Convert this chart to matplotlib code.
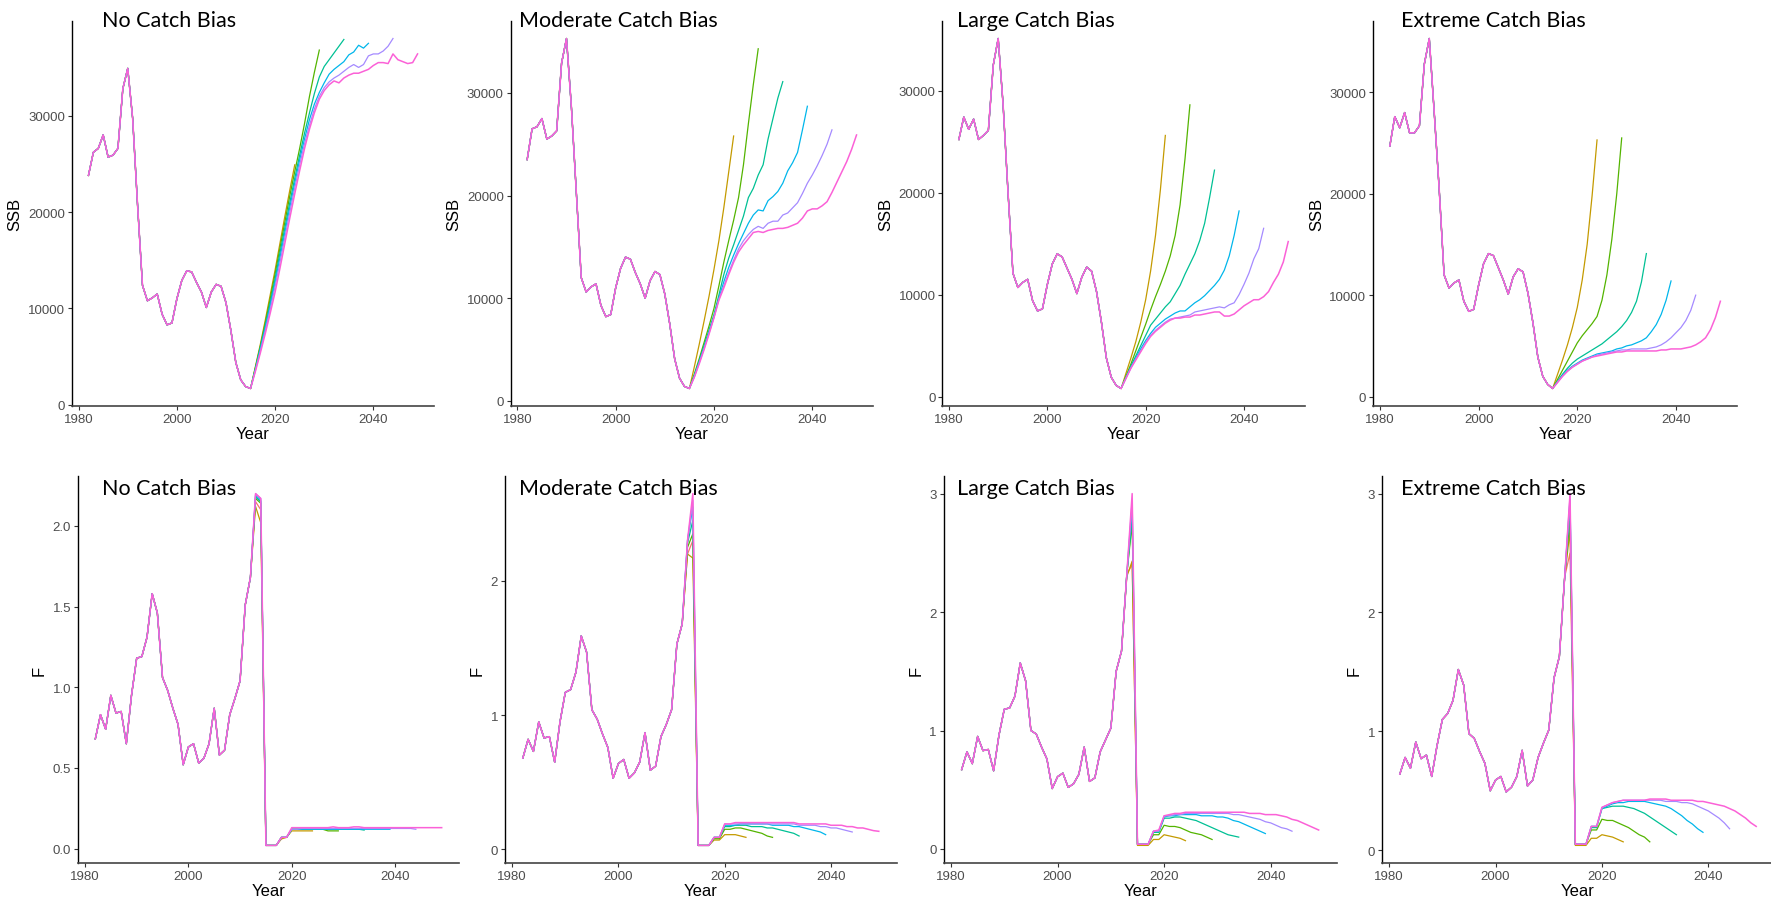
import numpy as np
import matplotlib
matplotlib.use("Agg")
import matplotlib.pyplot as plt

W, H = 1771, 904

HIST_START = 1982     # first assessment year
PROJ_START = 2016     # first projected SSB year
F_TAIL_START = 2013   # F tails start here, the series split at the peak

# ggplot hue palette, 7 groups (terminal run + 6 projection lengths)
series_colors = ["#F8766D", "#C49A00", "#53B400", "#00C094", "#00B6EB", "#A58AFF", "#FB61D7"]
panel_titles = ["No Catch Bias", "Moderate Catch Bias", "Large Catch Bias", "Extreme Catch Bias"]
year_ticks = [1980, 2000, 2020, 2040]
ssb_ticks = [0, 10000, 20000, 30000]
f_ticks = [[0.0, 0.5, 1.0, 1.5, 2.0], [0, 1, 2], [0, 1, 2, 3], [0, 1, 2, 3]]
f_tick_labels = [["0.0", "0.5", "1.0", "1.5", "2.0"], ["0", "1", "2"], ["0", "1", "2", "3"], ["0", "1", "2", "3"]]

# ---- SSB, 1982-2015 ----
ssb_hist_none = [23800, 26200, 26600, 28000, 25700, 25900, 26600, 32800, 34900, 29700, 20700, 12400,
                 10800, 11100, 11500, 9400, 8300, 8500, 11000, 12900, 13900, 13800, 12700, 11700,
                 10100, 11700, 12500, 12300, 10600, 7700, 4400, 2600, 1900, 1700]
ssb_hist_mod = [23500, 26500, 26700, 27500, 25500, 25800, 26300, 32900, 35300, 28600, 20300, 12000,
                10600, 11100, 11400, 9300, 8200, 8400, 11000, 12900, 14000, 13800, 12500, 11400,
                10000, 11700, 12600, 12300, 10400, 7500, 4100, 2200, 1400, 1200]
ssb_hist_large = [25200, 27400, 26200, 27200, 25200, 25600, 26100, 32500, 35100, 28600, 20000, 12100,
                  10700, 11200, 11500, 9400, 8400, 8600, 11000, 13000, 14000, 13700, 12600, 11500,
                  10100, 11700, 12700, 12300, 10300, 7300, 3800, 1900, 1100, 800]
ssb_hist_ext = [24700, 27600, 26500, 28000, 26000, 26000, 26700, 32800, 35300, 28000, 20500, 12000,
                10700, 11200, 11500, 9400, 8400, 8600, 11000, 13100, 14100, 13900, 12700, 11500,
                10100, 11800, 12600, 12300, 10200, 7300, 3900, 2000, 1200, 800]

# ---- SSB projections from 2016, one list per series (red has none) ----
ssb_proj_none = [
    [],
    [4000, 6300, 8800, 11400, 14000, 16800, 19600, 22300, 24900],
    [3900, 6100, 8500, 11000, 13600, 16300, 19000, 21700, 24200, 26600, 29200, 32000, 34500, 36800],
    [3800, 6000, 8200, 10600, 13100, 15800, 18400, 21000, 23500, 25900, 28200, 30300, 32300, 34000,
     35100, 35800, 36500, 37200, 37900],
    [3700, 5800, 8000, 10300, 12700, 15300, 17900, 20500, 23000, 25400, 27600, 29600, 31200, 32400,
     33400, 34300, 34800, 35200, 35600, 36300, 36600, 37300, 37000, 37500],
    [3600, 5600, 7700, 9900, 12300, 14800, 17400, 20000, 22500, 24900, 27100, 29000, 30700, 32000,
     32900, 33500, 33900, 34200, 34600, 35000, 35300, 35000, 35300, 36200, 36400, 36400, 36700,
     37200, 38000],
    [3500, 5400, 7400, 9500, 11700, 14200, 16800, 19400, 21900, 24300, 26600, 28600, 30300, 31700,
     32600, 33200, 33600, 33400, 33900, 34200, 34400, 34400, 34600, 34800, 35200, 35500, 35500,
     35400, 36400, 35800, 35600, 35400, 35500, 36400],
]
ssb_proj_mod = [
    [],
    [3300, 5500, 7800, 10200, 12800, 15600, 18800, 22300, 25800],
    [2600, 4100, 5700, 7300, 9000, 11200, 13500, 15600, 17600, 19800, 23000, 27000, 30800, 34300],
    [2500, 3900, 5400, 6900, 8400, 10300, 12300, 13900, 15200, 16600, 18000, 19800, 20700, 22000,
     23000, 25500, 27500, 29500, 31100],
    [2400, 3800, 5200, 6700, 8200, 10000, 11600, 13000, 14200, 15300, 16300, 17300, 18100, 18600,
     18500, 19500, 19900, 20400, 21200, 22400, 23200, 24200, 26400, 28700],
    [2300, 3700, 5100, 6600, 8100, 9900, 11200, 12500, 13700, 14800, 15600, 16200, 16700, 17000,
     16800, 17300, 17500, 17500, 18100, 18300, 18800, 19300, 20200, 21200, 22000, 22900, 23900,
     25000, 26400],
    [2300, 3600, 5000, 6500, 8100, 9800, 11000, 12300, 13500, 14500, 15200, 15800, 16400, 16500,
     16400, 16600, 16700, 16800, 16800, 16900, 17100, 17300, 17800, 18500, 18700, 18700, 19000,
     19400, 20300, 21300, 22300, 23300, 24500, 25900],
]
ssb_proj_large = [
    [],
    [2300, 3800, 5400, 7300, 9500, 12300, 15800, 20300, 25600],
    [2000, 3200, 4500, 5800, 7100, 8500, 9800, 11000, 12300, 13800, 15800, 18800, 23300, 28600],
    [1900, 3000, 4000, 5000, 6000, 7000, 7600, 8200, 8800, 9300, 10100, 10900, 12000, 13000, 14000,
     15300, 17000, 19500, 22200],
    [1900, 2900, 3800, 4700, 5500, 6200, 6800, 7200, 7600, 7900, 8200, 8400, 8400, 8800, 9200, 9500,
     9900, 10400, 10900, 11500, 12400, 13800, 15800, 18200],
    [1800, 2800, 3700, 4500, 5300, 6000, 6500, 6900, 7300, 7600, 7700, 7800, 7900, 8000, 8300, 8400,
     8500, 8600, 8700, 8800, 8700, 9000, 9200, 10000, 11000, 12100, 13500, 14500, 16500],
    [1800, 2800, 3600, 4400, 5200, 5900, 6400, 6800, 7200, 7500, 7700, 7700, 7800, 7800, 8000, 8000,
     8100, 8200, 8300, 8300, 7900, 7900, 8100, 8500, 8900, 9200, 9500, 9500, 9800, 10300, 11200,
     12000, 13200, 15200],
]
ssb_proj_ext = [
    [],
    [2200, 3600, 5100, 6800, 8800, 11500, 15000, 19800, 25300],
    [1700, 2600, 3500, 4400, 5300, 6000, 6600, 7200, 7900, 9500, 12000, 15500, 20000, 25500],
    [1500, 2200, 2800, 3300, 3700, 4000, 4300, 4600, 4900, 5200, 5600, 6000, 6400, 6900, 7500, 8300,
     9400, 11300, 14100],
    [1500, 2100, 2600, 3000, 3300, 3600, 3800, 4000, 4200, 4300, 4400, 4500, 4700, 4800, 5000, 5100,
     5300, 5500, 5800, 6400, 7100, 8100, 9500, 11400],
    [1400, 2000, 2500, 2900, 3200, 3500, 3700, 3900, 4100, 4200, 4300, 4400, 4500, 4600, 4600, 4700,
     4700, 4700, 4700, 4800, 4900, 5100, 5400, 5800, 6300, 6800, 7500, 8500, 10000],
    [1400, 2000, 2500, 2900, 3200, 3500, 3700, 3900, 4000, 4100, 4200, 4300, 4400, 4400, 4500, 4500,
     4500, 4500, 4500, 4500, 4500, 4600, 4600, 4700, 4700, 4700, 4800, 4900, 5100, 5400, 5800, 6600,
     7800, 9400],
]

# ---- F, 1982-2012 ----
f_hist_none = [0.68, 0.83, 0.74, 0.95, 0.84, 0.85, 0.65, 0.95, 1.18, 1.19, 1.31, 1.58, 1.46, 1.06,
               0.98, 0.87, 0.77, 0.52, 0.63, 0.65, 0.53, 0.56, 0.65, 0.87, 0.58, 0.61, 0.83, 0.93,
               1.04, 1.51, 1.68]
f_hist_mod = [0.68, 0.82, 0.73, 0.95, 0.83, 0.84, 0.65, 0.95, 1.17, 1.19, 1.32, 1.59, 1.47, 1.04,
              0.97, 0.86, 0.76, 0.53, 0.64, 0.67, 0.53, 0.57, 0.65, 0.87, 0.59, 0.62, 0.84, 0.93,
              1.04, 1.53, 1.68]
f_hist_large = [0.67, 0.82, 0.72, 0.95, 0.83, 0.84, 0.66, 0.96, 1.18, 1.19, 1.29, 1.57, 1.42, 1.00,
                0.97, 0.86, 0.76, 0.51, 0.61, 0.64, 0.52, 0.55, 0.63, 0.86, 0.57, 0.60, 0.82, 0.92,
                1.02, 1.50, 1.67]
f_hist_ext = [0.64, 0.78, 0.69, 0.91, 0.77, 0.80, 0.62, 0.88, 1.10, 1.15, 1.26, 1.52, 1.39, 0.98,
              0.94, 0.83, 0.73, 0.50, 0.59, 0.62, 0.49, 0.53, 0.62, 0.84, 0.54, 0.59, 0.78, 0.90,
              1.01, 1.45, 1.63]

# ---- F from 2013 on, one list per series ----
f_tail_none = [
    [2.15, 2.10, 0.02],
    [2.12, 2.02, 0.02, 0.02, 0.02, 0.06, 0.07, 0.11, 0.11, 0.11, 0.11, 0.11],
    [2.17, 2.14, 0.02, 0.02, 0.02, 0.07, 0.07, 0.12, 0.12, 0.12, 0.12, 0.12, 0.12, 0.12, 0.11, 0.11, 0.11],
    [2.18, 2.15, 0.02, 0.02, 0.02, 0.07, 0.07, 0.12, 0.12, 0.12, 0.12, 0.12, 0.12, 0.12, 0.12, 0.12,
     0.12, 0.12, 0.12, 0.12, 0.12, 0.115],
    [2.19, 2.16, 0.02, 0.02, 0.02, 0.07, 0.07, 0.12, 0.12, 0.12, 0.12, 0.12, 0.12, 0.12, 0.12, 0.12,
     0.12, 0.12, 0.12, 0.12, 0.12, 0.12, 0.12, 0.12, 0.12, 0.12, 0.12],
    [2.20, 2.17, 0.02, 0.02, 0.02, 0.07, 0.07, 0.12, 0.12, 0.125, 0.125, 0.125, 0.125, 0.125, 0.125,
     0.125, 0.125, 0.125, 0.125, 0.125, 0.125, 0.125, 0.125, 0.125, 0.125, 0.125, 0.125, 0.125,
     0.125, 0.125, 0.125, 0.12],
    [2.20, 2.17, 0.02, 0.02, 0.02, 0.07, 0.07, 0.13, 0.13, 0.13, 0.13, 0.13, 0.13, 0.13, 0.13, 0.135,
     0.13, 0.13, 0.13, 0.135, 0.135, 0.13, 0.13, 0.13, 0.13, 0.13, 0.13, 0.13, 0.13, 0.13, 0.13,
     0.13, 0.13, 0.13, 0.13, 0.13, 0.13],
]
f_tail_mod = [
    [2.20, 2.30, 0.03],
    [2.20, 2.17, 0.03, 0.03, 0.03, 0.07, 0.07, 0.11, 0.11, 0.11, 0.10, 0.09],
    [2.25, 2.35, 0.03, 0.03, 0.03, 0.08, 0.08, 0.15, 0.15, 0.16, 0.16, 0.15, 0.14, 0.13, 0.12, 0.10, 0.09],
    [2.28, 2.45, 0.03, 0.03, 0.03, 0.09, 0.09, 0.17, 0.17, 0.18, 0.18, 0.18, 0.17, 0.17, 0.17, 0.16,
     0.16, 0.15, 0.14, 0.13, 0.12, 0.10],
    [2.30, 2.55, 0.03, 0.03, 0.03, 0.09, 0.09, 0.18, 0.18, 0.18, 0.19, 0.19, 0.19, 0.19, 0.19, 0.19,
     0.18, 0.18, 0.18, 0.18, 0.17, 0.17, 0.16, 0.15, 0.14, 0.13, 0.11],
    [2.30, 2.60, 0.03, 0.03, 0.03, 0.09, 0.09, 0.19, 0.19, 0.19, 0.19, 0.19, 0.19, 0.19, 0.19, 0.19,
     0.19, 0.19, 0.19, 0.19, 0.19, 0.18, 0.18, 0.18, 0.18, 0.17, 0.17, 0.16, 0.16, 0.15, 0.14, 0.13],
    [2.30, 2.65, 0.03, 0.03, 0.03, 0.09, 0.09, 0.19, 0.19, 0.20, 0.20, 0.20, 0.20, 0.20, 0.20, 0.20,
     0.20, 0.20, 0.20, 0.20, 0.20, 0.19, 0.19, 0.19, 0.19, 0.19, 0.19, 0.18, 0.18, 0.18, 0.17, 0.17,
     0.16, 0.16, 0.15, 0.14, 0.135],
]
f_tail_large = [
    [2.32, 2.40, 0.04],
    [2.30, 2.43, 0.03, 0.03, 0.03, 0.08, 0.08, 0.12, 0.11, 0.10, 0.09, 0.07],
    [2.32, 2.75, 0.04, 0.04, 0.04, 0.12, 0.12, 0.20, 0.19, 0.19, 0.18, 0.16, 0.14, 0.13, 0.12, 0.10, 0.08],
    [2.32, 2.80, 0.04, 0.04, 0.04, 0.14, 0.14, 0.26, 0.26, 0.27, 0.27, 0.26, 0.25, 0.24, 0.22, 0.20,
     0.18, 0.16, 0.14, 0.12, 0.11, 0.10],
    [2.32, 2.90, 0.04, 0.04, 0.04, 0.15, 0.15, 0.27, 0.28, 0.28, 0.29, 0.29, 0.29, 0.29, 0.28, 0.28,
     0.28, 0.27, 0.27, 0.26, 0.24, 0.23, 0.21, 0.19, 0.17, 0.15, 0.13],
    [2.32, 2.95, 0.04, 0.04, 0.04, 0.15, 0.15, 0.28, 0.28, 0.29, 0.29, 0.30, 0.30, 0.30, 0.30, 0.30,
     0.30, 0.30, 0.30, 0.30, 0.29, 0.29, 0.28, 0.27, 0.26, 0.25, 0.23, 0.22, 0.20, 0.18, 0.17, 0.15],
    [2.32, 3.00, 0.04, 0.04, 0.04, 0.15, 0.16, 0.28, 0.29, 0.30, 0.30, 0.31, 0.31, 0.31, 0.31, 0.31,
     0.31, 0.31, 0.31, 0.31, 0.31, 0.31, 0.31, 0.30, 0.30, 0.30, 0.29, 0.29, 0.29, 0.28, 0.27, 0.25,
     0.24, 0.22, 0.20, 0.18, 0.16],
]
f_tail_ext = [
    [2.30, 2.50, 0.05],
    [2.30, 2.69, 0.04, 0.04, 0.04, 0.10, 0.10, 0.13, 0.12, 0.11, 0.09, 0.07],
    [2.30, 2.80, 0.05, 0.05, 0.05, 0.17, 0.17, 0.26, 0.25, 0.25, 0.23, 0.21, 0.19, 0.16, 0.13, 0.11, 0.07],
    [2.30, 2.90, 0.05, 0.05, 0.05, 0.19, 0.19, 0.35, 0.36, 0.37, 0.37, 0.37, 0.36, 0.35, 0.33, 0.31,
     0.28, 0.25, 0.22, 0.19, 0.16, 0.13],
    [2.30, 2.95, 0.05, 0.05, 0.05, 0.20, 0.20, 0.35, 0.37, 0.39, 0.40, 0.40, 0.41, 0.41, 0.41, 0.41,
     0.40, 0.39, 0.38, 0.37, 0.35, 0.32, 0.29, 0.25, 0.22, 0.18, 0.15],
    [2.30, 2.98, 0.05, 0.05, 0.05, 0.20, 0.20, 0.36, 0.38, 0.40, 0.41, 0.42, 0.42, 0.42, 0.42, 0.42,
     0.42, 0.42, 0.42, 0.41, 0.41, 0.41, 0.40, 0.40, 0.39, 0.37, 0.35, 0.33, 0.30, 0.27, 0.23, 0.18],
    [2.30, 3.00, 0.05, 0.05, 0.05, 0.20, 0.20, 0.36, 0.38, 0.40, 0.41, 0.42, 0.42, 0.42, 0.42, 0.42,
     0.43, 0.43, 0.43, 0.43, 0.42, 0.42, 0.42, 0.42, 0.42, 0.41, 0.41, 0.40, 0.39, 0.38, 0.37, 0.35,
     0.33, 0.30, 0.27, 0.23, 0.20],
]

ssb_hist = [ssb_hist_none, ssb_hist_mod, ssb_hist_large, ssb_hist_ext]
ssb_proj = [ssb_proj_none, ssb_proj_mod, ssb_proj_large, ssb_proj_ext]
f_hist = [f_hist_none, f_hist_mod, f_hist_large, f_hist_ext]
f_tail = [f_tail_none, f_tail_mod, f_tail_large, f_tail_ext]

# panel boxes in pixels: (left, right), rows share top/bottom
top_cols = [(72, 434), (510.7, 873), (942.4, 1304.7), (1373.3, 1736.9)]
bot_cols = [(78, 459), (505, 896.6), (943.8, 1336.5), (1382, 1774)]
top_row = (22, 407)
bot_row = (477, 864)
title_x = [102, 519, 957, 1401]


def px_rect(l, r, t, b):
    return [l / W, 1 - b / H, (r - l) / W, (b - t) / H]


def style_axes(ax, ylabel):
    for side in ("top", "right"):
        ax.spines[side].set_visible(False)
    ax.spines["left"].set_color("black")
    ax.spines["bottom"].set_color("#444444")
    ax.spines["left"].set_linewidth(1.0)
    ax.spines["bottom"].set_linewidth(1.2)
    ax.tick_params(length=3, width=0.8, color="#333333", labelcolor="#4D4D4D",
                   labelsize=9.5, pad=2)
    ax.set_xticks(year_ticks)
    ax.set_xlabel("Year", fontsize=12, labelpad=1)
    ax.set_ylabel(ylabel, fontsize=12, labelpad=4)
    for t in ax.get_xticklabels() + ax.get_yticklabels():
        t.set_family("Liberation Sans")
    ax.xaxis.label.set_family("Liberation Sans")
    ax.yaxis.label.set_family("Liberation Sans")


def line_width(k):
    # last series is drawn on top, slightly wider so it hides the shared part
    return 1.1 if k == len(series_colors) - 1 else 0.9


fig = plt.figure(figsize=(W / 100, H / 100), dpi=100)

for p in range(4):
    # SSB row
    ax = fig.add_axes(px_rect(top_cols[p][0], top_cols[p][1], *top_row))
    hist = ssb_hist[p]
    hist_years = np.arange(HIST_START, HIST_START + len(hist))
    for k, proj in enumerate(ssb_proj[p]):
        yrs = np.concatenate([hist_years, np.arange(PROJ_START, PROJ_START + len(proj))])
        vals = list(hist) + list(proj)
        ax.plot(yrs, vals, color=series_colors[k], lw=line_width(k))
    ax.set_xlim(1978.65, 2052.35)
    ax.set_yticks(ssb_ticks)
    ax.set_yticklabels([str(v) for v in ssb_ticks])
    style_axes(ax, "SSB")
    fig.text(title_x[p] / W, 1 - 27 / H, panel_titles[p], fontsize=15.5,
             family=["Lato", "DejaVu Sans"], va="baseline", ha="left")

    # F row
    ax = fig.add_axes(px_rect(bot_cols[p][0], bot_cols[p][1], *bot_row))
    hist = f_hist[p]
    hist_years = np.arange(HIST_START, HIST_START + len(hist))
    for k, tail in enumerate(f_tail[p]):
        yrs = np.concatenate([hist_years, np.arange(F_TAIL_START, F_TAIL_START + len(tail))])
        vals = list(hist) + list(tail)
        ax.plot(yrs, vals, color=series_colors[k], lw=line_width(k))
    ax.set_xlim(1978.65, 2052.35)
    ax.set_yticks(f_ticks[p])
    ax.set_yticklabels(f_tick_labels[p])
    style_axes(ax, "F")
    fig.text(title_x[p] / W, 1 - 495 / H, panel_titles[p], fontsize=15.5,
             family=["Lato", "DejaVu Sans"], va="baseline", ha="left")

fig.savefig("out.png", dpi=100)
